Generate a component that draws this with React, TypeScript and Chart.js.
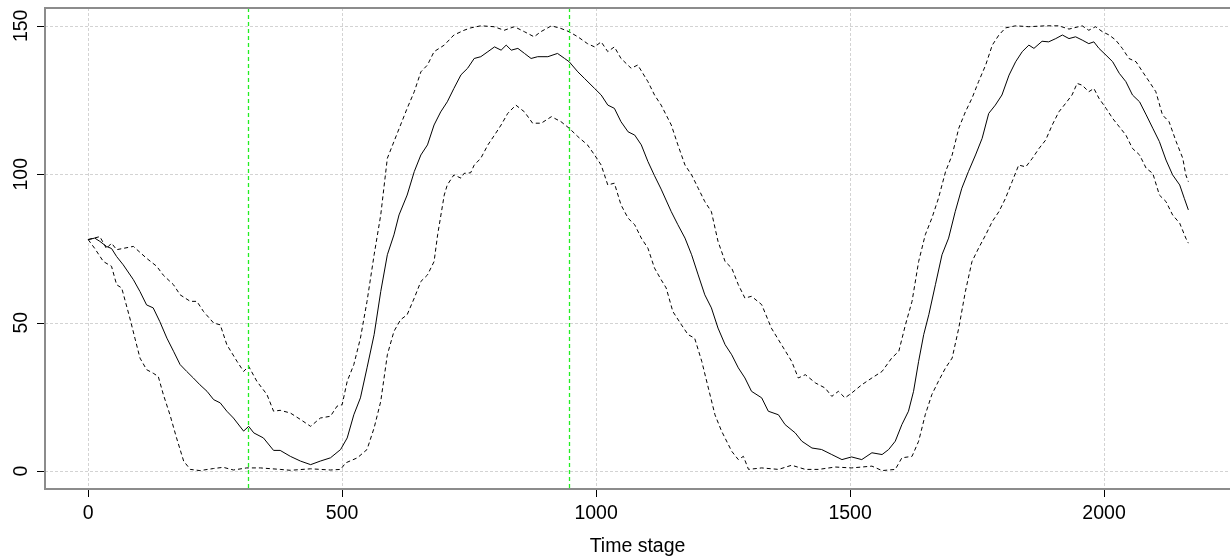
import React, { useEffect, useRef } from "react";
import { Chart, registerables } from "chart.js";

Chart.register(...registerables);

// ---- data ----
const midT = [0,13,23,36,46,56,69,89,102,115,128,141,155,168,181,194,207,220,234,247,260,273,286,306,316,326,345,365,378,398,418,438,457,477,497,510,523,536,549,563,576,589,602,612,628,642,655,668,681,694,707,720,734,747,760,773,787,800,813,823,833,846,859,872,885,905,924,938,947,964,977,997,1010,1023,1036,1049,1063,1076,1089,1102,1115,1128,1148,1161,1175,1188,1201,1214,1227,1240,1254,1267,1280,1293,1306,1326,1339,1359,1372,1392,1405,1425,1444,1464,1484,1503,1523,1543,1563,1576,1589,1602,1615,1625,1635,1645,1655,1668,1681,1694,1707,1720,1733,1747,1760,1773,1786,1799,1813,1826,1839,1852,1862,1878,1891,1905,1918,1931,1944,1957,1970,1980,1990,2004,2017,2030,2043,2056,2070,2083,2096,2109,2122,2135,2149,2158,2166];
const midV = [78,78.5,77.4,75.7,75,72.3,69.5,64.5,60.5,56,55,50.4,44.8,40.4,35.9,33.6,31.4,29.1,26.9,24.1,23,20.2,17.9,13.5,15.1,12.9,11.2,7,7,5,3.4,2.2,3.4,4.5,7.3,11.2,19,24.7,34.8,46,60.5,72.9,79.6,86.3,93,100.9,106.5,109.9,116.6,121,124.4,128.9,133.5,135.7,139,139.6,141.3,142.9,141.8,143.5,141.8,142.4,140.7,139,139.6,139.6,140.7,139,137.9,134.5,132.3,128.9,126.7,123.3,122.2,117.7,114.3,113.2,109.9,104.3,99.5,95,87.4,83,78.5,72.9,66.1,59.4,55,48.2,42.6,39.2,34.8,31.4,26.9,24.7,20.2,19,15.7,12.9,10.1,7.8,7.3,5.6,3.9,4.8,3.9,6.2,5.6,7.3,10.1,15.7,20.2,26.9,37,46,52.7,62.8,72.9,78.5,87.4,95.3,100.9,106.5,112.1,120.5,123.3,126.7,133.4,137.9,141.3,143.5,142.4,144.8,144.6,145.7,146.9,145.7,146.3,145.2,144,144.6,142.4,140.1,137.9,134,131.2,126.7,124.4,120,115.5,111,104.8,99.8,96.4,91.9,88];

const upT = [0,23,36,46,56,89,115,135,148,168,181,201,214,227,247,260,273,293,306,316,332,352,365,378,398,418,438,457,477,490,500,510,523,536,549,563,576,589,602,615,628,642,655,668,681,701,720,740,753,773,799,819,839,859,878,891,912,931,947,964,983,997,1010,1023,1036,1049,1069,1082,1102,1115,1128,1148,1161,1175,1188,1201,1214,1227,1240,1254,1267,1280,1293,1306,1326,1345,1365,1385,1398,1412,1432,1451,1464,1477,1490,1503,1523,1543,1563,1582,1596,1609,1622,1635,1648,1661,1674,1688,1701,1714,1727,1740,1753,1767,1780,1793,1806,1826,1852,1885,1911,1931,1957,1970,1983,1997,2010,2023,2036,2049,2063,2076,2089,2102,2115,2128,2142,2155,2161,2166];
const upV = [78,79,75,76.8,74.6,75.7,71.7,69,66,62.8,59.4,57.2,57.2,53.8,49.9,49.3,42.6,37,33.6,35.3,30.3,25.8,20.2,20.5,19.6,17.4,15.1,17.9,18.5,21.9,22.4,30.3,35.9,44.8,57.2,72.9,86.3,105.4,111,116.6,122.2,127.8,134.5,136.8,141.3,143.5,146.9,148.5,149.3,150,149.7,148.5,149.7,148,146.3,148,150,149.1,148,146.3,144,142.9,144.6,141.3,142.9,139,135.7,136.8,131.2,126.7,123.3,116.6,109.9,103.1,99.8,95.3,90.8,87.4,77.4,70.6,68.4,62.8,58.3,58.9,56.1,48.2,42.6,37,31.4,32.5,29.7,28,25.2,26.9,24.7,26.3,29.1,31.4,33.6,38.1,40.4,49.3,57.2,70.6,79.6,85.2,91.9,100.9,106.5,115.5,121,125.6,131.2,136.8,143.5,146.9,149.3,150,149.7,150,150,148.9,150,148.5,149.7,148,146.9,145.2,142.4,139,137.9,134.5,131.2,127.8,120,117.7,111,105.4,99.8,97.5];

const loT = [0,13,30,46,56,66,82,92,102,115,128,138,148,161,174,188,201,220,247,266,286,312,339,378,398,438,477,497,507,530,549,563,576,589,602,615,628,642,655,668,681,688,701,707,720,734,740,753,760,773,787,800,813,826,842,859,875,892,912,931,947,964,983,997,1010,1023,1036,1049,1063,1076,1089,1102,1115,1128,1138,1151,1168,1181,1194,1208,1221,1234,1247,1267,1280,1290,1300,1326,1359,1385,1412,1438,1471,1503,1543,1563,1589,1602,1622,1635,1648,1661,1674,1688,1701,1714,1727,1740,1753,1767,1780,1793,1806,1819,1832,1846,1859,1872,1885,1898,1911,1924,1937,1947,1957,1970,1980,1990,2004,2017,2030,2043,2056,2070,2083,2096,2109,2122,2135,2149,2161,2166];
const loV = [78,75,70.6,69,62.8,61.7,51.6,44.8,38.1,34.2,33,31.9,25.8,19,11.2,3.4,0.6,0.2,0.9,1.3,0.4,1.1,1.1,0.6,0.3,0.8,0.4,0.6,2.8,4.5,7.3,14.6,23.5,39.2,47.1,51,52.7,58.3,63.9,66.1,70.6,79.6,93,96.4,99.8,98.7,100.3,100.5,103.1,105.4,109.9,113.2,116.6,120.5,123.3,121,117.2,117.2,119.4,117.7,115.5,112.7,109.9,106.5,103.1,96.4,97,89.7,85.2,83,78.5,75.1,68.4,64.5,61.7,53.8,49.3,46,44.8,37,28,19,13.5,6.7,3.9,5,0.6,1.1,0.6,2,0.6,0.6,1.4,1.1,1.7,0.2,0.6,4.5,5,10.1,19,25.8,30.3,34.8,38.1,48.2,60.5,70.6,75.1,79.6,84.1,87.4,91.9,97.5,103.1,102.5,105.4,108.7,111.5,116.6,121,123.8,126.7,130.6,130,127.8,128.9,125.6,122.2,118.8,116,113.2,108.7,106.5,102,100.3,93,90.8,86.3,83.5,78.5,76.8];

const vlineTimes = [315, 947];
const xTicks = [0, 500, 1000, 1500, 2000];
const yTicks = [0, 50, 100, 150];
const xTitle = "Time stage";

const FONT = '19.5px "Liberation Sans", Arial, sans-serif';

const zip = (t: number[], v: number[]) => t.map((x, i) => ({ x, y: v[i] }));

const decor = {
  id: "decor",
  beforeDatasetsDraw(chart: any) {
    const { ctx, chartArea: a, scales } = chart;
    const xs = scales.x, ys = scales.y;
    ctx.save();
    ctx.strokeStyle = "#d3d3d3";
    ctx.lineWidth = 1;
    ctx.setLineDash([3, 2]);
    xTicks.forEach((t) => {
      const px = Math.round(xs.getPixelForValue(t)) + 0.5;
      ctx.beginPath();
      ctx.moveTo(px, a.top);
      ctx.lineTo(px, a.bottom);
      ctx.stroke();
    });
    yTicks.forEach((v) => {
      const py = Math.round(ys.getPixelForValue(v)) + 0.5;
      ctx.beginPath();
      ctx.moveTo(a.left, py);
      ctx.lineTo(a.right, py);
      ctx.stroke();
    });
    ctx.restore();
  },
  afterDatasetsDraw(chart: any) {
    const { ctx, chartArea: a, scales } = chart;
    const xs = scales.x, ys = scales.y;
    ctx.save();
    // green vertical dashed lines
    ctx.strokeStyle = "#22ee22";
    ctx.lineWidth = 1.3;
    ctx.setLineDash([4, 3]);
    vlineTimes.forEach((t) => {
      const px = Math.round(xs.getPixelForValue(t)) + 0.5;
      ctx.beginPath();
      ctx.moveTo(px, a.top);
      ctx.lineTo(px, a.bottom);
      ctx.stroke();
    });
    ctx.setLineDash([]);
    // box
    ctx.strokeStyle = "#8c8c8c";
    ctx.lineWidth = 2;
    ctx.beginPath();
    ctx.moveTo(a.right, a.top);
    ctx.lineTo(a.left, a.top);
    ctx.lineTo(a.left, a.bottom);
    ctx.lineTo(a.right, a.bottom);
    ctx.stroke();
    // ticks
    ctx.strokeStyle = "#000";
    ctx.lineWidth = 1;
    xTicks.forEach((t) => {
      const px = Math.round(xs.getPixelForValue(t)) + 0.5;
      ctx.beginPath();
      ctx.moveTo(px, a.bottom + 1);
      ctx.lineTo(px, a.bottom + 8);
      ctx.stroke();
    });
    yTicks.forEach((v) => {
      const py = Math.round(ys.getPixelForValue(v)) + 0.5;
      ctx.beginPath();
      ctx.moveTo(a.left - 1, py);
      ctx.lineTo(a.left - 8, py);
      ctx.stroke();
    });
    // labels
    ctx.fillStyle = "#000";
    ctx.font = FONT;
    ctx.textAlign = "center";
    ctx.textBaseline = "alphabetic";
    xTicks.forEach((t) => {
      const px = xs.getPixelForValue(t);
      ctx.fillText(String(t), px, 519);
    });
    yTicks.forEach((v) => {
      const py = ys.getPixelForValue(v);
      ctx.save();
      ctx.translate(27, py);
      ctx.rotate(-Math.PI / 2);
      ctx.fillText(String(v), 0, 0);
      ctx.restore();
    });
    ctx.fillText(xTitle, (a.left + a.right) / 2, 552);
    ctx.restore();
  },
};

export default function App() {
  const ref = useRef<HTMLCanvasElement | null>(null);
  useEffect(() => {
    if (!ref.current) return;
    const line = (label: string, data: any[], dash: number[]) => ({
      label,
      data,
      borderColor: "#000",
      borderWidth: 1,
      borderDash: dash,
      pointRadius: 0,
      tension: 0,
      fill: false,
    });
    const chart = new Chart(ref.current, {
      type: "line",
      data: {
        datasets: [
          line("upper", zip(upT, upV), [4, 3]),
          line("mean", zip(midT, midV), []),
          line("lower", zip(loT, loV), [4, 3]),
        ],
      },
      options: {
        animation: false,
        responsive: false,
        devicePixelRatio: 1,
        parsing: true,
        layout: { padding: { left: 45, top: 8, right: 0, bottom: 70 } },
        plugins: { legend: { display: false }, tooltip: { enabled: false } },
        scales: {
          x: { type: "linear", min: -85, max: 2248, display: false },
          y: { type: "linear", min: -6, max: 156, display: false },
        },
      },
      plugins: [decor],
    });
    return () => chart.destroy();
  }, []);
  return (
    <div style={{ position: "absolute", left: 0, top: 0, width: 1230, height: 559, background: "#fff" }}>
      <canvas ref={ref} width={1230} height={559} style={{ width: 1230, height: 559 }} />
    </div>
  );
}
